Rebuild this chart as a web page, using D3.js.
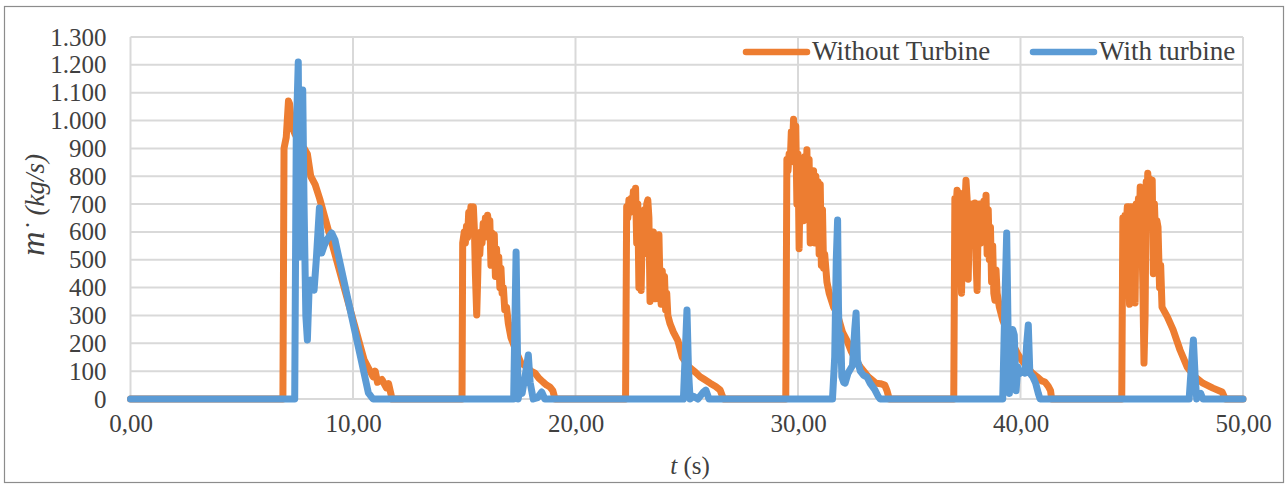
<!DOCTYPE html>
<html>
<head>
    <meta charset="utf-8">
    <style>
        body {
            margin: 0;
            background: #ffffff;
        }

        text {
            font-family: "Liberation Serif", "Times New Roman", serif;
            fill: #404040;
        }
    </style>
    <script src="https://d3js.org/d3.v7.min.js"></script>
</head>
<body>
<script type="application/javascript">
  // time (s) and mass flow (kg/s)
  var tWithout = [0,
    6.85, 6.9, 7.0, 7.1, 7.15, 7.25, 7.4, 7.6, 7.8, 7.95, 8.1, 8.3, 8.5, 9.0, 9.5, 10.0, 10.5, 10.7, 10.9, 11.0, 11.1, 11.3, 11.5, 11.6, 11.7, 11.75,
    14.9, 14.93, 15.0, 15.05, 15.1, 15.15, 15.2, 15.25, 15.3, 15.36, 15.41, 15.46, 15.5, 15.56, 15.6, 15.65, 15.7, 15.75, 15.8, 15.85, 15.9, 15.95, 16.0, 16.05, 16.1, 16.15, 16.2, 16.25, 16.3, 16.35, 16.4, 16.45, 16.5, 16.55, 16.6, 16.65, 16.7, 16.76, 16.82, 16.9, 16.98,
    17.1, 17.2, 17.36, 17.55, 17.8, 18.0, 18.18, 18.35, 18.54, 18.7, 18.85, 18.98, 19.08,
    22.25, 22.3, 22.35, 22.4, 22.45, 22.5, 22.55, 22.6, 22.65, 22.7, 22.75, 22.8, 22.85, 22.9, 22.95, 23.0, 23.05, 23.1, 23.15, 23.2, 23.25, 23.3, 23.35, 23.4, 23.45, 23.5, 23.55, 23.6, 23.65, 23.7, 23.75, 23.8, 23.85, 23.9, 23.95, 24.0, 24.05, 24.1, 24.15,
    24.25, 24.4, 24.6, 24.8, 25.1, 25.4, 25.6, 25.8, 26.05, 26.3, 26.5, 26.65,
    29.45, 29.5, 29.55, 29.6, 29.65, 29.7, 29.75, 29.8, 29.85, 29.9, 29.95, 30.0, 30.05, 30.1, 30.15, 30.2, 30.25, 30.3, 30.35, 30.4, 30.45, 30.5, 30.55, 30.6, 30.65, 30.7, 30.75, 30.8, 30.85, 30.9, 30.95, 31.0, 31.05, 31.1, 31.15, 31.2, 31.3, 31.4,
    31.6, 31.75, 32.0, 32.2, 32.4, 32.6, 32.8, 33.0, 33.15, 33.3, 33.5, 33.7, 33.9, 34.0, 34.1,
    37.0, 37.05, 37.1, 37.15, 37.2, 37.25, 37.3, 37.35, 37.4, 37.45, 37.5, 37.55, 37.6, 37.65, 37.7, 37.75, 37.8, 37.85, 37.9, 37.95, 38.0, 38.05, 38.1, 38.15, 38.2, 38.25, 38.3, 38.35, 38.4, 38.45, 38.5, 38.55, 38.6, 38.65, 38.7, 38.75, 38.8, 38.85, 38.9, 38.95, 39.05,
    39.2, 39.5, 39.85, 40.05, 40.3, 40.5, 40.75, 40.95, 41.1, 41.25, 41.35, 41.4,
    44.55, 44.6, 44.65, 44.7, 44.75, 44.8, 44.85, 44.9, 44.95, 45.0, 45.05, 45.1, 45.15, 45.2, 45.25, 45.3, 45.35, 45.38, 45.45, 45.5, 45.55, 45.6, 45.65, 45.69, 45.72, 45.77, 45.82, 45.87, 45.92, 45.97, 46.02, 46.08, 46.13, 46.18, 46.25, 46.3, 46.36,
    46.6, 46.86, 47.17, 47.49, 47.85, 48.2, 48.65, 49.06, 49.2,
    50];
  var mWithout = [0,
    0, 900, 940, 1070, 1060, 980, 950, 920, 900, 880, 800, 770, 720, 575, 430, 285, 140, 110, 80, 100, 60, 70, 40, 55, 20, 0,
    0, 560, 600, 560, 620, 580, 670, 640, 690, 660, 690, 600, 450, 302, 420, 590, 520, 600, 560, 630, 580, 650, 600, 660, 610, 640, 480, 596, 520, 590, 440, 540, 470, 510, 400, 470, 380, 400, 320, 330, 272,
    220, 200, 165, 130, 115, 100, 93, 75, 61, 50, 43, 30, 0,
    0, 690, 650, 715, 670, 720, 680, 745, 700, 757, 560, 700, 400, 560, 390, 600, 520, 680, 600, 700, 715, 650, 350, 560, 420, 600, 450, 360, 560, 380, 590, 400, 340, 460, 360, 440, 320, 380, 300,
    270, 240, 210, 150, 115, 95, 80, 70, 57, 45, 32, 0,
    0, 860, 820, 880, 850, 960, 900, 1005, 940, 980, 700, 880, 540, 800, 700, 860, 640, 870, 750, 895, 650, 860, 560, 820, 620, 820, 560, 800, 600, 780, 520, 770, 480, 680, 470, 520, 420, 380,
    330, 310, 240, 210, 170, 140, 115, 95, 80, 70, 57, 55, 50, 30, 0,
    0, 720, 680, 750, 700, 740, 560, 380, 600, 720, 690, 786, 720, 430, 650, 700, 560, 690, 620, 704, 500, 390, 640, 700, 560, 680, 600, 710, 620, 732, 520, 680, 500, 617, 420, 550, 380, 355, 463, 380, 330,
    284, 223, 165, 140, 115, 95, 79, 65, 61, 45, 30, 0,
    0, 650, 600, 660, 620, 690, 500, 340, 690, 640, 690, 460, 345, 700, 600, 720, 650, 761, 600, 400, 129, 300, 780, 720, 811, 720, 790, 700, 786, 450, 700, 560, 640, 617, 400, 480, 330,
    295, 248, 176, 115, 79, 57, 39, 25, 0,
    0];

  var tWith = [0,
    7.38, 7.45, 7.54, 7.6, 7.67, 7.74, 7.8, 7.88, 7.95, 8.02, 8.1, 8.25, 8.35, 8.49, 8.59, 8.7, 8.82, 9.04, 9.19, 9.5, 9.9, 10.3, 10.69, 10.9,
    17.22, 17.33, 17.42, 17.5, 17.6, 17.75, 17.88, 17.96, 18.1, 18.3, 18.48, 18.62,
    24.85, 24.95, 25.01, 25.08, 25.15, 25.3, 25.5, 25.75, 25.86, 26.0,
    31.55, 31.65, 31.72, 31.78, 31.82, 31.86, 31.92, 31.97, 32.05, 32.12, 32.25, 32.45, 32.55, 32.61, 32.67, 32.8, 32.95, 33.1, 33.24, 33.46, 33.6, 33.69,
    39.2, 39.3, 39.38, 39.45, 39.5, 39.58, 39.65, 39.72, 39.8, 39.88, 39.95, 40.05, 40.2, 40.28, 40.35, 40.42, 40.55, 40.68, 40.8, 40.88,
    47.58, 47.68, 47.77, 47.85, 47.92, 48.0, 48.1, 48.2,
    50];
  var mWith = [0,
    0, 950, 1210, 510, 1000, 1110, 700, 300, 212, 380, 427, 391, 500, 686, 524, 550, 571, 596, 571, 458, 311, 165, 22, 0,
    0, 528, 0, 32, 20, 90, 158, 60, 0, 5, 25, 0,
    0, 200, 320, 100, 0, 10, 0, 25, 32, 0,
    0, 150, 500, 643, 330, 170, 230, 80, 60, 57, 93, 120, 250, 309, 140, 100, 85, 79, 57, 32, 10, 0,
    0, 350, 596, 200, 20, 150, 250, 230, 30, 115, 90, 100, 93, 200, 266, 93, 80, 57, 20, 0,
    0, 120, 212, 80, 0, 15, 20, 0,
    0];

  var xTicks = [0, 10, 20, 30, 40, 50];
  var yTicks = [0, 100, 200, 300, 400, 500, 600, 700, 800, 900, 1000, 1100, 1200, 1300];
  var seriesNames = ["Without Turbine", "With turbine"];
  var colors = ["#ed7d31", "#5b9bd5"];

  var W = 1288, H = 484;
  var plot = {left: 130.5, right: 1243, top: 37, bottom: 399};

  var svg = d3.select("body")
              .append("svg")
              .attr("width", W)
              .attr("height", H);

  // outer frame
  svg.append("rect")
     .attr("x", 4.5).attr("y", 6.5)
     .attr("width", 1279).attr("height", 476)
     .attr("fill", "none")
     .attr("stroke", "#8c8c8c")
     .attr("stroke-width", 1.2);

  var x = d3.scaleLinear().domain([0, 50]).range([plot.left, plot.right]);
  var y = d3.scaleLinear().domain([0, 1300]).range([plot.bottom, plot.top]);

  // grid
  svg.append("g")
     .selectAll("line")
     .data(yTicks)
     .enter()
     .append("line")
     .attr("x1", plot.left).attr("x2", plot.right)
     .attr("y1", function (d) { return y(d); })
     .attr("y2", function (d) { return y(d); })
     .attr("stroke", "#d9d9d9")
     .attr("stroke-width", 2);

  svg.append("g")
     .selectAll("line")
     .data(xTicks)
     .enter()
     .append("line")
     .attr("x1", function (d) { return x(d); })
     .attr("x2", function (d) { return x(d); })
     .attr("y1", plot.top).attr("y2", plot.bottom)
     .attr("stroke", "#d9d9d9")
     .attr("stroke-width", 2);

  // axes (labels only, excel style)
  var yAxis = svg.append("g")
     .attr("transform", "translate(" + (plot.left - 24) + ",0)")
     .call(d3.axisLeft(y).tickValues(yTicks).tickSize(0).tickPadding(0)
       .tickFormat(function (d) { return d3.format(",")(d).replace(/,/g, "."); }));
  yAxis.select(".domain").remove();
  yAxis.selectAll("text")
       .attr("font-size", 25)
       .attr("font-family", "Liberation Serif")
       .attr("fill", "#404040");

  var xAxis = svg.append("g")
     .attr("transform", "translate(0," + plot.bottom + ")")
     .call(d3.axisBottom(x).tickValues(xTicks).tickSize(0).tickPadding(15)
       .tickFormat(function (d) { return d3.format(".2f")(d).replace(".", ","); }));
  xAxis.select(".domain").remove();
  xAxis.selectAll("text")
       .attr("font-size", 25)
       .attr("font-family", "Liberation Serif")
       .attr("fill", "#404040");

  // series
  var line = d3.line()
               .x(function (d) { return x(d[0]); })
               .y(function (d) { return y(d[1]); });

  var data = [d3.zip(tWithout, mWithout), d3.zip(tWith, mWith)];

  svg.selectAll(".series")
     .data(data)
     .enter()
     .append("path")
     .attr("class", "series")
     .attr("d", line)
     .attr("fill", "none")
     .attr("stroke", function (d, i) { return colors[i]; })
     .attr("stroke-width", 7)
     .attr("stroke-linejoin", "round")
     .attr("stroke-linecap", "round");

  // legend
  var legendX = [746, 1033];
  var legend = svg.selectAll(".legend")
                  .data(seriesNames)
                  .enter()
                  .append("g")
                  .attr("class", "legend")
                  .attr("transform", function (d, i) { return "translate(" + legendX[i] + ",52)"; });
  legend.append("line")
        .attr("x1", 0).attr("x2", 61)
        .attr("stroke", function (d, i) { return colors[i]; })
        .attr("stroke-width", 6.5)
        .attr("stroke-linecap", "round");
  legend.append("text")
        .attr("x", 66).attr("y", 8)
        .attr("font-size", 27)
        .text(function (d) { return d; });

  // axis titles
  var xt = svg.append("text")
              .attr("x", 690).attr("y", 474)
              .attr("text-anchor", "middle")
              .attr("font-size", 25);
  xt.append("tspan").attr("font-style", "italic").text("t");
  xt.append("tspan").text(" (s)");

  var yt = svg.append("text")
              .attr("transform", "translate(44,205) rotate(-90)")
              .attr("text-anchor", "middle")
              .attr("font-size", 27)
              .attr("font-style", "italic");
  yt.append("tspan").attr("font-size", 34).text("m");
  yt.append("tspan").text("˙ (kg/s)");
</script>
</body>
</html>
